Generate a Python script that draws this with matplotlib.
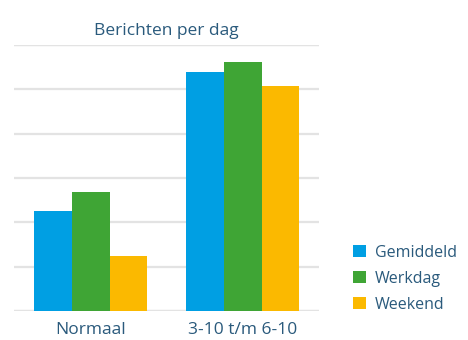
import matplotlib
matplotlib.use("Agg")
import matplotlib.pyplot as plt
import numpy as np

categories = ["Normaal", "3-10 t/m 6-10"]
series_names = ["Gemiddeld", "Werkdag", "Weekend"]
gemiddeld = [2.26, 5.38]
werkdag = [2.68, 5.62]
weekend = [1.25, 5.08]
colors = ["#009fe3", "#3fa535", "#fbb900"]
text_color = "#2a5a7c"

plt.rcParams["font.family"] = ["Open Sans", "DejaVu Sans"]

fig = plt.figure(figsize=(4.68, 3.40), dpi=100)
ax = fig.add_axes([0.030, 0.0844, 0.652, 0.7841])

x = np.arange(len(categories))
width = 0.2485
for i, (vals, name, c) in enumerate(zip([gemiddeld, werkdag, weekend], series_names, colors)):
    ax.bar(x + (i - 1) * width, vals, width, color=c, label=name, zorder=3)

ax.set_xlim(-0.506, 1.504)
ax.set_ylim(0, 6)
ax.set_yticks(np.arange(0, 7, 1))
ax.yaxis.grid(True, color="#e3e3e3", linewidth=1.6, zorder=0)
ax.set_axisbelow(True)
ax.tick_params(axis="y", left=False, labelleft=False)
ax.tick_params(axis="x", bottom=False, labelsize=12.5, colors=text_color, pad=4)
ax.set_xticks(x)
ax.set_xticklabels(categories)
for s in ax.spines.values():
    s.set_visible(False)
ax.axhline(0, color="#e3e3e3", linewidth=1.6, zorder=1)
ax.axhline(6, color="#e3e3e3", linewidth=1.6, zorder=1)

ax.set_title("Berichten per dag", color=text_color, fontsize=12.5, pad=7)

fig.legend(loc="center left", bbox_to_anchor=(0.737, 0.18), frameon=False,
           fontsize=11.5, labelcolor=text_color, handlelength=0.8, handleheight=0.8,
           handletextpad=0.6, labelspacing=0.62, borderpad=0)

fig.savefig("out.png", dpi=100)
